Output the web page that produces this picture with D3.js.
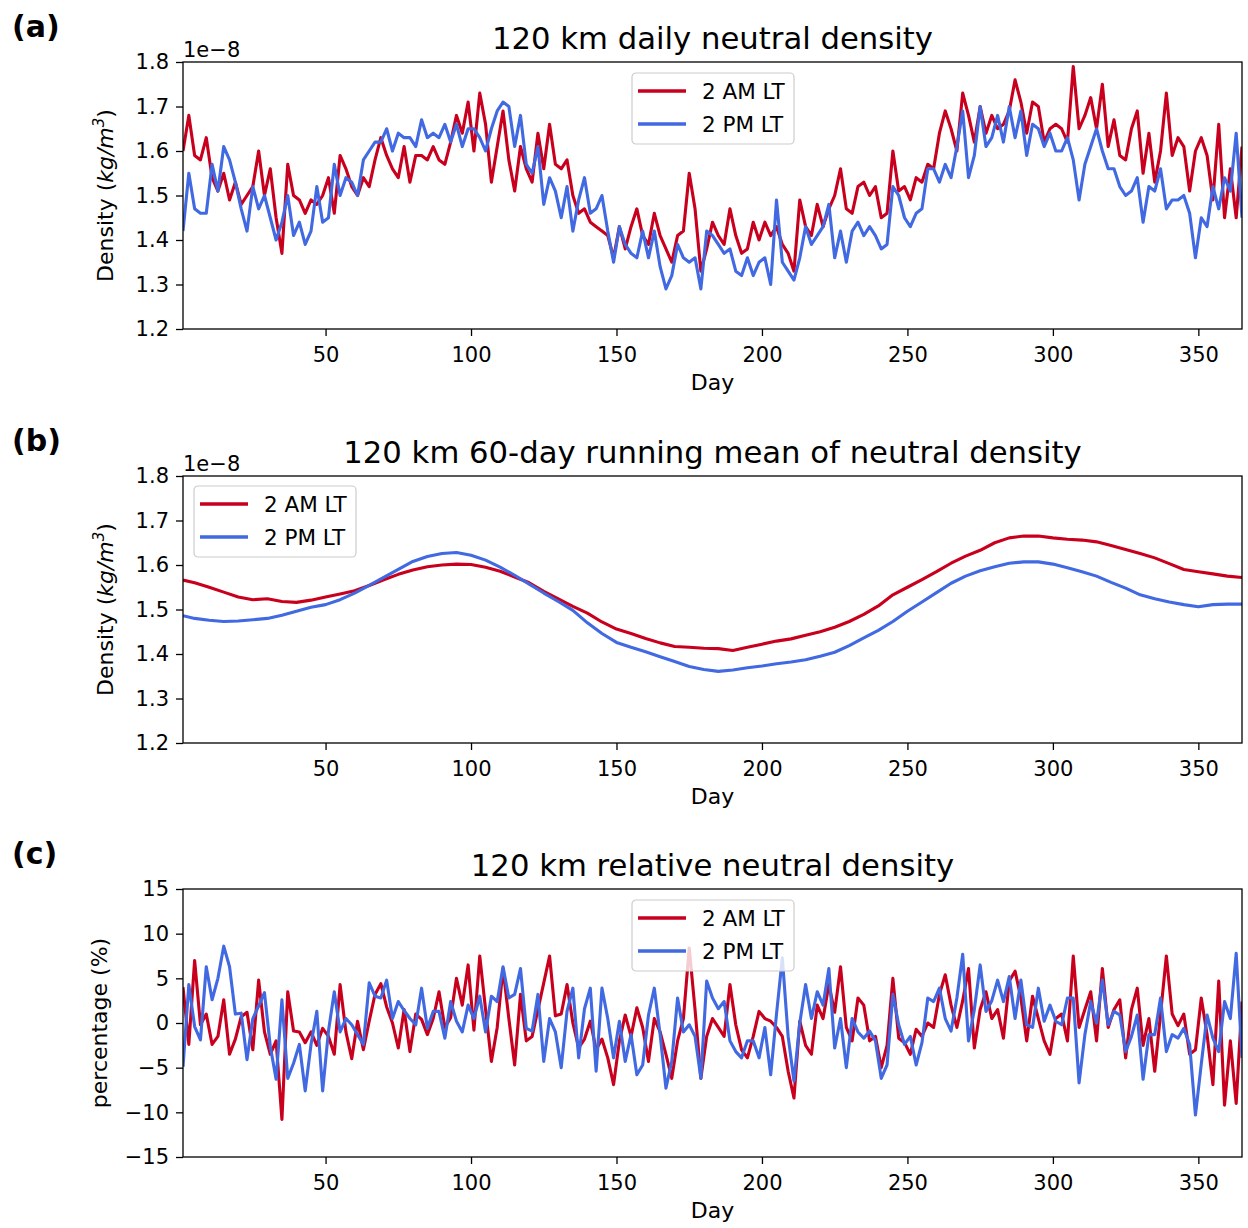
<!DOCTYPE html>
<html>
<head>
<meta charset="utf-8">
<script src="https://cdn.jsdelivr.net/npm/d3@7"></script>
<style>
  body { margin: 0; background: #fff; }
  text { font-family: "DejaVu Sans", sans-serif; }
</style>
</head>
<body>
<script>
// ---- data (density in units of 1e-8 kg/m^3, every 2nd day) ----
var dailyDays = d3.range(1, 366, 2);

var dailyAM = [
  1.60, 1.68, 1.59, 1.58, 1.63, 1.54, 1.51, 1.55, 1.49, 1.53,
  1.48, 1.50, 1.52, 1.60, 1.50, 1.56, 1.45, 1.37, 1.57, 1.50,
  1.49, 1.46, 1.49, 1.48, 1.50, 1.54, 1.46, 1.59, 1.56, 1.52,
  1.50, 1.54, 1.52, 1.58, 1.63, 1.59, 1.56, 1.54, 1.61, 1.53,
  1.59, 1.59, 1.58, 1.61, 1.58, 1.57, 1.62, 1.68, 1.64, 1.71,
  1.60, 1.73, 1.66, 1.53, 1.61, 1.69, 1.58, 1.51, 1.61, 1.56,
  1.53, 1.64, 1.56, 1.66, 1.57, 1.56, 1.58, 1.50, 1.46, 1.47,
  1.44, 1.43, 1.42, 1.41, 1.36, 1.43, 1.38, 1.43, 1.47, 1.41,
  1.39, 1.46, 1.41, 1.38, 1.35, 1.41, 1.42, 1.55, 1.47, 1.33,
  1.38, 1.44, 1.41, 1.39, 1.47, 1.41, 1.37, 1.38, 1.44, 1.40,
  1.44, 1.41, 1.43, 1.39, 1.37, 1.33, 1.49, 1.43, 1.41, 1.48,
  1.43, 1.47, 1.50, 1.56, 1.47, 1.46, 1.52, 1.53, 1.50, 1.52,
  1.45, 1.46, 1.60, 1.51, 1.52, 1.49, 1.54, 1.53, 1.57, 1.56,
  1.64, 1.69, 1.65, 1.60, 1.73, 1.68, 1.62, 1.70, 1.64, 1.68,
  1.65, 1.66, 1.69, 1.76, 1.71, 1.64, 1.71, 1.70, 1.62, 1.65,
  1.66, 1.65, 1.62, 1.79, 1.65, 1.68, 1.72, 1.65, 1.75, 1.61,
  1.67, 1.59, 1.58, 1.65, 1.69, 1.55, 1.64, 1.53, 1.60, 1.73,
  1.59, 1.63, 1.61, 1.51, 1.60, 1.63, 1.59, 1.49, 1.66, 1.45,
  1.56, 1.45, 1.61
];

var dailyPM = [
  1.42, 1.55, 1.47, 1.46, 1.46, 1.57, 1.51, 1.61, 1.58, 1.53,
  1.47, 1.42, 1.52, 1.47, 1.50, 1.45, 1.40, 1.44, 1.50, 1.41,
  1.44, 1.39, 1.42, 1.52, 1.44, 1.45, 1.57, 1.50, 1.54, 1.53,
  1.50, 1.58, 1.60, 1.62, 1.62, 1.65, 1.60, 1.64, 1.63, 1.63,
  1.61, 1.67, 1.63, 1.64, 1.63, 1.66, 1.62, 1.66, 1.61, 1.65,
  1.65, 1.63, 1.60, 1.65, 1.69, 1.71, 1.70, 1.61, 1.68, 1.57,
  1.55, 1.61, 1.48, 1.54, 1.51, 1.45, 1.52, 1.42, 1.49, 1.54,
  1.46, 1.47, 1.50, 1.42, 1.35, 1.43, 1.39, 1.37, 1.36, 1.42,
  1.36, 1.42, 1.34, 1.29, 1.32, 1.39, 1.36, 1.35, 1.36, 1.29,
  1.42, 1.41, 1.39, 1.37, 1.38, 1.33, 1.32, 1.36, 1.32, 1.35,
  1.36, 1.30, 1.49, 1.35, 1.33, 1.31, 1.36, 1.43, 1.39, 1.41,
  1.43, 1.48, 1.36, 1.42, 1.35, 1.42, 1.44, 1.41, 1.43, 1.41,
  1.38, 1.39, 1.52, 1.50, 1.45, 1.43, 1.46, 1.47, 1.56, 1.56,
  1.53, 1.57, 1.54, 1.61, 1.69, 1.54, 1.59, 1.70, 1.61, 1.63,
  1.68, 1.62, 1.70, 1.63, 1.69, 1.59, 1.66, 1.65, 1.61, 1.64,
  1.60, 1.60, 1.63, 1.58, 1.49, 1.57, 1.61, 1.65, 1.60, 1.56,
  1.56, 1.52, 1.50, 1.51, 1.54, 1.44, 1.52, 1.51, 1.56, 1.47,
  1.49, 1.49, 1.50, 1.46, 1.36, 1.45, 1.43, 1.52, 1.47, 1.54,
  1.51, 1.64, 1.45
];

// 60-day running mean, every 5th day
var meanDays = [1].concat(d3.range(5, 366, 5));

var meanAM = [
  1.566, 1.560, 1.550, 1.539, 1.528, 1.522, 1.524, 1.518, 1.516, 1.521,
  1.528, 1.535, 1.542, 1.554, 1.567, 1.579, 1.589, 1.596, 1.600, 1.602,
  1.601, 1.595, 1.586, 1.573, 1.560, 1.541, 1.524, 1.507, 1.492, 1.472,
  1.456, 1.446, 1.435, 1.425, 1.417, 1.415, 1.413, 1.412, 1.408, 1.415,
  1.422, 1.429, 1.434, 1.442, 1.450, 1.460, 1.473, 1.489, 1.508, 1.533,
  1.550, 1.567, 1.585, 1.604, 1.620, 1.633, 1.650, 1.661, 1.665, 1.665,
  1.661, 1.658, 1.656, 1.652, 1.644, 1.635, 1.626, 1.616, 1.603, 1.590,
  1.585, 1.580, 1.575, 1.572
];

var meanPM = [
  1.486, 1.480, 1.476, 1.473, 1.474, 1.477, 1.480, 1.487, 1.496, 1.505,
  1.511, 1.522, 1.537, 1.554, 1.572, 1.590, 1.608, 1.619, 1.626, 1.628,
  1.622, 1.611, 1.595, 1.577, 1.557, 1.537, 1.518, 1.498, 1.470, 1.446,
  1.426, 1.415, 1.405, 1.394, 1.383, 1.372, 1.365, 1.361, 1.364, 1.369,
  1.373, 1.378, 1.382, 1.387, 1.395, 1.404, 1.419, 1.436, 1.453, 1.473,
  1.496, 1.517, 1.538, 1.559, 1.575, 1.587, 1.596, 1.604, 1.607, 1.607,
  1.602, 1.594, 1.585, 1.575, 1.561, 1.548, 1.533, 1.524, 1.517, 1.511,
  1.506, 1.511, 1.512, 1.512
];

// relative density (%), every 2nd day
var relAM = [
  4.0, -2.4, 7.0, -0.2, 1.0, -2.4, -1.5, 2.6, -3.5, -1.8,
  0.7, 1.2, -3.0, 4.8, -1.0, -3.5, -2.0, -10.8, 3.5, -0.9,
  -1.0, -2.2, -1.0, -2.5, -0.6, -1.5, -3.5, 4.3, -1.0, -4.0,
  0.2, -3.0, 0.2, 3.2, 4.4, 1.8, 0.0, -2.8, 1.5, -3.2,
  1.0, 0.4, -1.3, 0.5, 3.5, -0.5, 0.6, 5.0, 2.0, 6.5,
  -0.8, 7.5, 1.5, -4.3, -0.5, 6.1, 0.5, -4.7, 3.2, -2.0,
  -1.5, 1.5, 4.5, 7.5, 0.8, 1.0, 4.3, 0.0, -2.8, -1.8,
  0.2, -3.0, -1.8, -3.9, -6.9, -2.0, 0.9, -1.5, 1.7, -0.5,
  -4.3, 0.5, -1.0, -3.5, -6.2, -2.0, 0.5, 8.4, 1.5, -6.2,
  -1.5, 0.5, -0.5, -1.5, 4.3, -0.2, -3.0, -3.9, -1.5, 1.3,
  0.5, 0.2, -0.5, -1.5, -5.4, -8.4, 0.2, -2.5, -3.5, 2.0,
  0.5, 4.3, 1.2, 6.3, -0.5, -2.0, 2.8, 2.0, -2.0, -1.5,
  -5.0, -2.5, 5.0, -1.7, -2.2, -3.5, -0.7, -1.5, 0.0, -0.5,
  3.2, 5.4, 2.0, -0.5, 2.5, 6.1, -2.8, 1.5, 3.5, 0.5,
  1.5, -1.7, 4.7, 5.8, 2.8, -2.0, 3.0, 0.5, -2.0, -3.5,
  0.5, 1.0, -2.0, 7.5, -0.5, 1.5, 3.5, -2.0, 6.1, -0.5,
  1.5, 2.6, -3.9, 1.5, 3.9, -2.5, 0.5, -5.4, 1.0, 7.5,
  1.0, -0.3, 1.0, -3.5, -3.0, 2.8, -1.3, -6.9, 4.7, -9.2,
  -2.0, -9.0, 2.4
];

var relPM = [
  -4.9, 4.3, -0.4, -1.9, 6.3, 2.6, 5.0, 8.6, 6.3, 1.0,
  1.1, -4.1, 0.5, 1.9, 3.4, -2.6, -6.3, 2.6, -6.2, -4.5,
  -2.4, -7.6, -2.4, 1.3, -7.6, -0.9, 3.5, -1.0, 0.5, -0.2,
  -1.3, -2.4, 4.5, 3.0, 2.8, 4.8, 0.5, 2.4, 1.4, 0.5,
  -0.2, 3.9, -0.6, 1.3, 1.3, -1.7, 2.4, 0.2, -1.0, 2.0,
  0.5, 3.0, -1.0, 3.0, 2.4, 6.3, 2.8, 3.2, 6.1, -0.6,
  -0.9, 3.2, -4.3, 0.5, -1.0, -5.0, 1.3, 3.9, -3.9, 1.6,
  3.9, -5.4, 3.9, 0.5, -3.9, 0.2, -4.3, -1.3, -5.8, -4.7,
  0.9, 3.9, -1.3, -7.3, -4.3, 2.8, -1.0, -0.2, -1.5, -6.2,
  4.7, 2.8, 1.6, 2.4, -2.0, -3.2, -3.9, -2.0, -2.0, -3.9,
  -0.5, -5.8, 1.0, 7.3, -1.5, -6.5, 0.0, 4.3, 0.5, 3.5,
  2.0, 6.1, -2.8, 0.5, -5.0, 0.5, -1.0, -1.7, -0.9, -2.0,
  -6.2, -4.7, 3.2, -0.2, -2.4, -1.5, -4.7, -2.2, 2.8, 2.4,
  3.9, 0.5, -0.9, 2.8, 7.7, -2.0, 1.5, 6.5, 1.3, 2.5,
  4.8, 2.4, 5.2, 0.5, 4.8, -0.2, -0.5, 3.9, 0.2, 2.0,
  0.2, -0.2, 2.8, 2.8, -6.7, -1.3, 2.4, 0.0, 4.8, -0.2,
  1.3, 0.9, -3.2, -1.5, 0.9, -6.3, -1.3, -1.3, 2.8, -3.2,
  -1.3, -1.7, -0.6, -2.4, -10.3, -4.6, 0.9, -1.7, -3.2, 2.4,
  0.5, 7.8, -3.9
];

var seriesNames = ["2 AM LT", "2 PM LT"];
var seriesColors = ["#c8001e", "#4169e1"];
var dayTicks = [50, 100, 150, 200, 250, 300, 350];
var densityTicks = [1.2, 1.3, 1.4, 1.5, 1.6, 1.7, 1.8];
var pctTicks = [-15, -10, -5, 0, 5, 10, 15];

// ---- layout ----
var w = 1248, h = 1228;
var left = 183, right = 1242;

var svg = d3.select("body").append("svg")
    .attr("width", w)
    .attr("height", h);

var x = d3.scaleLinear().domain([1, 365]).range([left, right]);

function zip(days, vals) {
  return days.map(function(d, i) { return [d, vals[i]]; });
}

function drawPanel(p, idx) {
  var y = d3.scaleLinear().domain(p.yDomain).range([p.bottom, p.top]);
  var g = svg.append("g");

  g.append("clipPath").attr("id", "clip" + idx)
    .append("rect")
    .attr("x", left).attr("y", p.top)
    .attr("width", right - left).attr("height", p.bottom - p.top);

  // lines
  var line = d3.line()
      .defined(function(d) { return d[1] != null; })
      .x(function(d) { return x(d[0]); })
      .y(function(d) { return y(d[1]); });

  p.series.forEach(function(s, i) {
    g.append("path")
      .datum(zip(p.days, s))
      .attr("clip-path", "url(#clip" + idx + ")")
      .attr("fill", "none")
      .attr("stroke", seriesColors[i])
      .attr("stroke-width", 3.1)
      .attr("stroke-linejoin", "round")
      .attr("d", line);
  });

  // axes
  var xa = g.append("g")
      .attr("transform", "translate(0," + p.bottom + ")")
      .call(d3.axisBottom(x).tickValues(dayTicks).tickSize(7).tickPadding(11));
  var ya = g.append("g")
      .attr("transform", "translate(" + left + ",0)")
      .call(d3.axisLeft(y).tickValues(p.yTicks).tickFormat(p.yFormat).tickSize(7).tickPadding(7));
  [xa, ya].forEach(function(a) {
    a.select(".domain").remove();
    a.selectAll("line").attr("stroke", "#000").attr("stroke-width", 1.3);
    a.selectAll("text").attr("font-size", 21).attr("fill", "#000")
      .attr("font-family", "DejaVu Sans");
  });

  g.append("rect")
    .attr("x", left).attr("y", p.top)
    .attr("width", right - left).attr("height", p.bottom - p.top)
    .attr("fill", "none").attr("stroke", "#000").attr("stroke-width", 1.3);

  // texts
  g.append("text")
    .attr("x", 12).attr("y", p.top - 25)
    .attr("font-size", 30).attr("font-weight", "bold")
    .text(p.label);

  g.append("text")
    .attr("x", (left + right) / 2).attr("y", p.top - 13)
    .attr("text-anchor", "middle").attr("font-size", 30.7)
    .text(p.title);

  g.append("text")
    .attr("x", (left + right) / 2).attr("y", p.bottom + 61)
    .attr("text-anchor", "middle").attr("font-size", 22)
    .text("Day");

  if (p.offset) {
    g.append("text")
      .attr("x", left).attr("y", p.top - 5)
      .attr("font-size", 21)
      .text(p.offset);
  }

  var yl = g.append("text")
      .attr("transform", "translate(" + p.ylabelX + "," + (p.top + p.bottom) / 2 + ") rotate(-90)")
      .attr("text-anchor", "middle").attr("font-size", 22);
  if (p.density) {
    yl.append("tspan").text("Density (");
    yl.append("tspan").attr("font-style", "italic").text("kg/m");
    yl.append("tspan").attr("font-style", "italic").attr("font-size", 15).attr("dy", -9).text("3");
    yl.append("tspan").attr("dy", 9).text(")");
  } else {
    yl.text("percentage (%)");
  }

  // legend
  var lg = g.append("g").attr("transform", "translate(" + p.legend[0] + "," + p.legend[1] + ")");
  lg.append("rect")
    .attr("width", 162).attr("height", 71).attr("rx", 4)
    .attr("fill", "#fff").attr("fill-opacity", 0.8)
    .attr("stroke", "#cccccc").attr("stroke-width", 1.2);
  seriesNames.forEach(function(n, i) {
    var ly = 18 + i * 33;
    lg.append("line")
      .attr("x1", 6).attr("x2", 54).attr("y1", ly).attr("y2", ly)
      .attr("stroke", seriesColors[i]).attr("stroke-width", 3.5);
    lg.append("text")
      .attr("x", 70).attr("y", ly + 7.5)
      .attr("font-size", 21.5)
      .text(n);
  });
}

var panels = [
  { label: "(a)", title: "120 km daily neutral density", top: 62, bottom: 329,
    yDomain: [1.2, 1.8], yTicks: densityTicks, yFormat: d3.format(".1f"),
    offset: "1e\u22128", density: true, ylabelX: 113,
    days: dailyDays, series: [dailyAM, dailyPM], legend: [632, 73] },
  { label: "(b)", title: "120 km 60-day running mean of neutral density", top: 476, bottom: 743,
    yDomain: [1.2, 1.8], yTicks: densityTicks, yFormat: d3.format(".1f"),
    offset: "1e\u22128", density: true, ylabelX: 113,
    days: meanDays, series: [meanAM, meanPM], legend: [194, 486] },
  { label: "(c)", title: "120 km relative neutral density", top: 889, bottom: 1157,
    yDomain: [-15, 15], yTicks: pctTicks, yFormat: d3.format("d"),
    offset: null, density: false, ylabelX: 107,
    days: dailyDays, series: [relAM, relPM], legend: [632, 900] }
];

panels.forEach(drawPanel);
</script>
</body>
</html>
